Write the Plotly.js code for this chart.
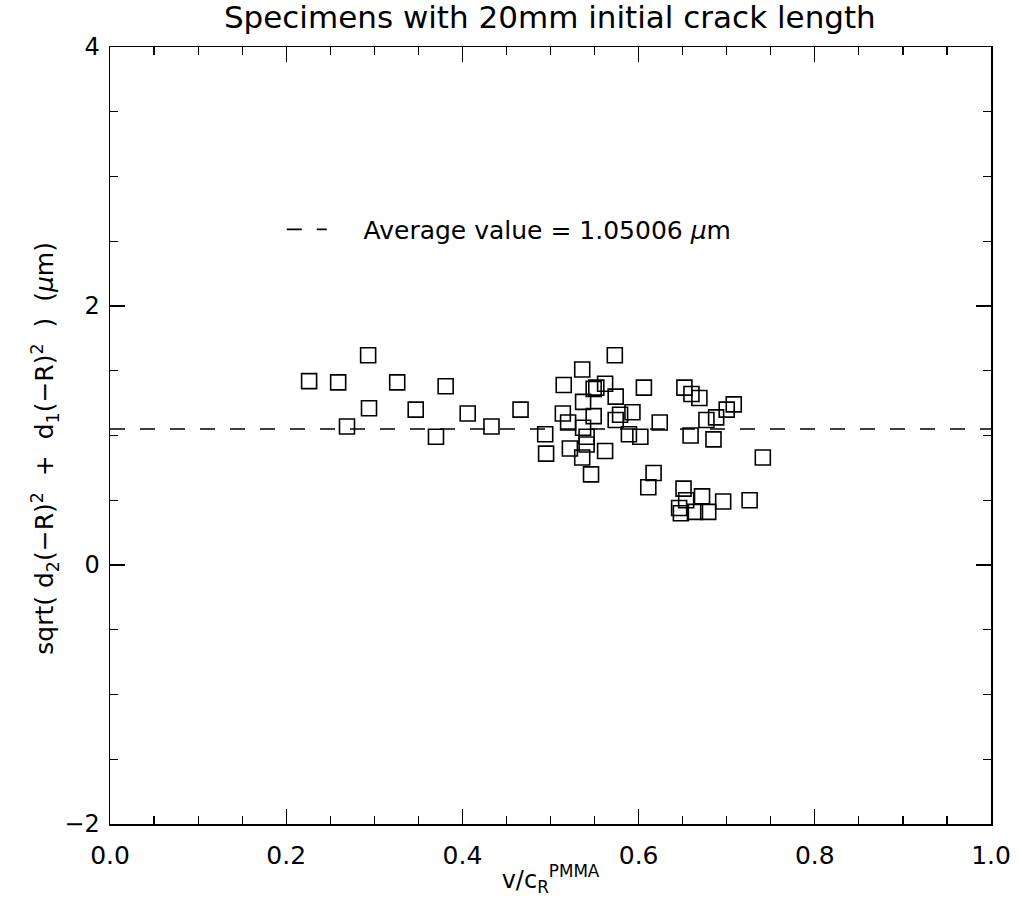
<!DOCTYPE html>
<html>
<head>
<meta charset="utf-8">
<script src="https://cdn.plot.ly/plotly-3.0.1.min.js"></script>
<style>html,body{margin:0;padding:0;background:#fff;}#chart{width:1022px;height:909px;}</style>
</head>
<body>
<div id="chart"></div>
<script>
// Measured points: v / c_R^PMMA vs sqrt(d2(-R)^2 + d1(-R)^2) in micrometres
const velocityRatio = [
  0.226, 0.259, 0.293, 0.294, 0.326, 0.347, 0.381, 0.269, 0.370, 0.406, 0.433,
  0.466, 0.494, 0.495, 0.514, 0.515, 0.520, 0.522, 0.536, 0.536, 0.537, 0.537,
  0.541, 0.541, 0.546, 0.549, 0.549, 0.552, 0.562, 0.562, 0.573, 0.574, 0.574,
  0.579, 0.589, 0.593, 0.602, 0.606, 0.611, 0.617, 0.624, 0.646, 0.648, 0.651,
  0.652, 0.654, 0.659, 0.660, 0.664, 0.669, 0.672, 0.677, 0.679, 0.685, 0.688,
  0.696, 0.700, 0.708, 0.726, 0.741
];
const crackOffset = [
  1.42, 1.41, 1.62, 1.21, 1.41, 1.20, 1.38, 1.07, 0.99, 1.17, 1.07,
  1.20, 1.01, 0.86, 1.17, 1.39, 1.10, 0.90, 1.51, 0.83, 1.26, 1.06,
  0.99, 0.93, 0.70, 1.36, 1.15, 1.37, 1.40, 0.88, 1.62, 1.30, 1.12,
  1.16, 1.01, 1.18, 0.99, 1.37, 0.60, 0.71, 1.10, 0.44, 0.40, 0.59,
  1.37, 0.50, 1.00, 1.32, 0.41, 1.29, 0.53, 1.12, 0.41, 0.97, 1.14,
  0.49, 1.20, 1.24, 0.50, 0.83
];
const averageValue = 1.05006;
const averageSpan = [0, 1];
const xTickVals = [0, 0.2, 0.4, 0.6, 0.8, 1.0];
const xTickText = ['0.0', '0.2', '0.4', '0.6', '0.8', '1.0'];
const yTickVals = [-2, 0, 2, 4];
const yTickText = ['\u22122', '0', '2', '4'];

const FONT = 'DejaVu Sans, Liberation Sans, sans-serif';
const NB = '\u00a0';

const traces = [
  {
    x: velocityRatio, y: crackOffset, type: 'scatter', mode: 'markers',
    showlegend: false,
    marker: {symbol: 'square-open', size: 15, color: '#000', line: {width: 1.6, color: '#000'}}
  },
  {
    x: averageSpan, y: [averageValue, averageValue], type: 'scatter', mode: 'lines',
    name: NB + NB + NB + NB + 'Average value = ' + averageValue + ' <i>\u03bc</i>m',
    showlegend: true,
    line: {color: '#000', width: 1.6, dash: '15px,15px'}
  }
];

const axisCommon = {
  showgrid: false, zeroline: false, showline: true, linecolor: '#000', linewidth: 1.5,
  mirror: 'allticks', ticks: 'inside', ticklen: 15, tickwidth: 1.2, tickcolor: '#000',
  tickfont: {family: FONT, size: 25, color: '#000'},
  minor: {ticks: 'inside', ticklen: 8, tickwidth: 1.2, tickcolor: '#000', showgrid: false}
};

const layout = {
  width: 1022, height: 909,
  margin: {l: 110, r: 31, t: 47, b: 85},
  paper_bgcolor: '#fff', plot_bgcolor: '#fff',
  font: {family: FONT, color: '#000'},
  title: {text: 'Specimens with 20mm initial crack length', font: {family: FONT, size: 31, color: '#000'},
          x: 0.538, xanchor: 'center', y: 0.993, yanchor: 'top'},
  xaxis: Object.assign({}, axisCommon, {
    range: [0, 1], tickmode: 'array', tickvals: xTickVals, ticktext: xTickText,
    ticklabelstandoff: 8,
    minor: Object.assign({}, axisCommon.minor, {dtick: 0.05}),
    title: {text: 'v/c<sub>R</sub><sup>PMMA</sup>', font: {family: FONT, size: 24, color: '#000'}, standoff: 2}
  }),
  yaxis: Object.assign({}, axisCommon, {
    range: [-2, 4], tickmode: 'array', tickvals: yTickVals, ticktext: yTickText,
    ticklabelstandoff: 4,
    tickfont: {family: FONT, size: 24, color: '#000'},
    minor: Object.assign({}, axisCommon.minor, {dtick: 0.5})
  }),
  annotations: [{
    xref: 'paper', yref: 'paper', x: -0.074, y: 0.484, xanchor: 'center', yanchor: 'middle',
    textangle: -90, showarrow: false,
    text: 'sqrt( d<sub>2</sub>(\u2212R)<sup>2</sup>' + NB + NB + '+' + NB + NB + 'd<sub>1</sub>(\u2212R)<sup>2</sup>' + NB + NB + ')' + NB + NB + '(<i>\u03bc</i>m)',
    font: {family: FONT, size: 25, color: '#000'}
  }],
  legend: {x: 0.195, y: 0.765, xanchor: 'left', yanchor: 'middle', bgcolor: 'rgba(0,0,0,0)',
           borderwidth: 0, font: {family: FONT, size: 25, color: '#000'}, itemwidth: 40}
};

Plotly.newPlot('chart', traces, layout, {displayModeBar: false, staticPlot: true});
</script>
</body>
</html>
